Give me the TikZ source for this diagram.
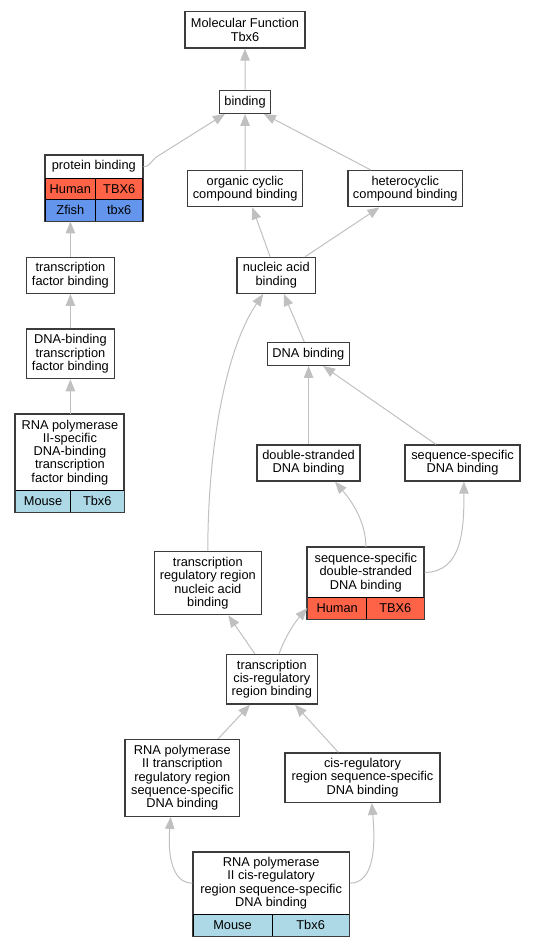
\documentclass[tikz,border=0pt]{standalone}
\usepackage{fontspec}
\setmainfont{Liberation Sans}
\usetikzlibrary{arrows.meta,calc}
\definecolor{edgec}{HTML}{C0C0C0}
\definecolor{bordc}{HTML}{3C3C3C}
\definecolor{human}{HTML}{FF6347}
\definecolor{zfish}{HTML}{6495ED}
\definecolor{mouse}{HTML}{ADD8E6}
\tikzset{
  txt/.style={font=\fontsize{12.8pt}{13.3pt}\selectfont, align=center, inner sep=0pt},
  box/.style={txt, draw=bordc, line width=1.3pt, fill=white},
  cell/.style={txt, draw=black, line width=0.9pt},
  grp/.style={draw=bordc, line width=1.3pt},
  edge/.style={draw=edgec, line width=1pt, -{Triangle[length=12pt,width=9.5pt]}}
}
\begin{document}
\begin{tikzpicture}[x=1pt,y=-1pt]
\useasboundingbox (0,0) rectangle (536,947);
% nodes
\node[box, minimum width=120pt, minimum height=36.3pt] (mf) at (245,29.85) {Molecular Function\\Tbx6};
\node[box, minimum width=51.4pt, minimum height=23pt] (bind) at (245.1,101.8) {binding};
% protein binding group
\node[box, minimum width=97.7pt, minimum height=23.3pt] (pbt) at (93.85,166.65) {protein binding};
\node[cell, fill=human, minimum width=50.7pt, minimum height=21pt] (pbh) at (70.35,188.8) {Human};
\node[cell, fill=human, minimum width=47pt, minimum height=21pt] (pbhg) at (119.2,188.8) {TBX6};
\node[cell, fill=zfish, minimum width=50.7pt, minimum height=21.7pt] (pbz) at (70.35,210.15) {Zfish};
\node[cell, fill=zfish, minimum width=47pt, minimum height=21.7pt] (pbzg) at (119.2,210.15) {tbx6};
\draw[grp] (pbt.north west) rectangle (pbzg.south east);
\node[box, minimum width=114.9pt, minimum height=36pt] (occ) at (245.15,188.7) {organic cyclic\\compound binding};
\node[box, minimum width=114.6pt, minimum height=36pt] (het) at (405.3,188.7) {heterocyclic\\compound binding};
\node[box, minimum width=88.2pt, minimum height=36pt] (tfb) at (70.4,275.3) {transcription\\factor binding};
\node[box, minimum width=78.7pt, minimum height=36pt] (nab) at (276.25,275.3) {nucleic acid\\binding};
\node[box, minimum width=88.2pt, minimum height=49.7pt] (dtfb) at (70.4,353.85) {DNA-binding\\transcription\\factor binding};
\node[box, minimum width=82pt, minimum height=22.6pt] (dnab) at (308.4,354) {DNA binding};
% RNA pol II specific group
\node[box, minimum width=108.4pt, minimum height=76pt] (rp2t) at (69.9,452.3) {RNA polymerase\\II-specific\\DNA-binding\\transcription\\factor binding};
\node[cell, fill=mouse, minimum width=54.7pt, minimum height=21.7pt] (rp2m) at (43.05,501.15) {Mouse};
\node[cell, fill=mouse, minimum width=53.7pt, minimum height=21.7pt] (rp2g) at (97.25,501.15) {Tbx6};
\draw[grp] (rp2t.north west) rectangle (rp2g.south east);
\node[box, minimum width=102.9pt, minimum height=36pt] (ds) at (308.55,463) {double-stranded\\DNA binding};
\node[box, minimum width=114.9pt, minimum height=36pt] (ssd) at (462.55,463) {sequence-specific\\DNA binding};
\node[box, minimum width=107pt, minimum height=63pt] (trr) at (207.8,583.2) {transcription\\regulatory region\\nucleic acid\\binding};
% ssds group
\node[box, minimum width=116.3pt, minimum height=49.6pt] (ssdst) at (365.85,572.5) {sequence-specific\\double-stranded\\DNA binding};
\node[cell, fill=human, minimum width=59pt, minimum height=21.7pt] (ssdsh) at (337.2,608.15) {Human};
\node[cell, fill=human, minimum width=57.3pt, minimum height=21.7pt] (ssdsg) at (395.35,608.15) {TBX6};
\draw[grp] (ssdst.north west) rectangle (ssdsg.south east);
\node[box, minimum width=91pt, minimum height=49.3pt] (tcr) at (271.8,679.35) {transcription\\cis-regulatory\\region binding};
\node[box, minimum width=114.7pt, minimum height=77pt] (rp2tr) at (182.35,777.8) {RNA polymerase\\II transcription\\regulatory region\\sequence-specific\\DNA binding};
\node[box, minimum width=155pt, minimum height=49.3pt] (crs) at (362.5,777.65) {cis-regulatory\\region sequence-specific\\DNA binding};
% rp2c group
\node[box, minimum width=156.3pt, minimum height=62.3pt] (rp2ct) at (271.15,883.15) {RNA polymerase\\II cis-regulatory\\region sequence-specific\\DNA binding};
\node[cell, fill=mouse, minimum width=79pt, minimum height=21.7pt] (rp2cm) at (232.5,925.15) {Mouse};
\node[cell, fill=mouse, minimum width=77.3pt, minimum height=21.7pt] (rp2cg) at (310.65,925.15) {Tbx6};
\draw[grp] (rp2ct.north west) rectangle (rp2cg.south east);
% edges
\draw[edge] (bind.north) -- (mf.south);
\draw[edge] (pbt.east) .. controls (151,166.5) and (150,161) .. (158,156) -- ($(bind.south west)+(6.2,0)$);
\draw[edge] (occ.north) -- (bind.south);
\draw[edge] ($(het.north)+(-34.4,0)$) -- ($(bind.south east)+(-7.6,0)$);
\draw[edge] ($(nab.north)+(-6.15,0)$) -- ($(occ.south)+(7.15,0)$);
\draw[edge] ($(nab.north)+(29,0)$) -- ($(het.south)+(-25.8,0)$);
\draw[edge] (tfb.north) -- (tfb.north |- pbz.south);
\draw[edge] (dtfb.north) -- (tfb.south);
\draw[edge] (dtfb.south |- rp2t.north) -- (dtfb.south);
\draw[edge] ($(dnab.north)+(-4.1,0)$) -- ($(nab.south)+(7.55,0)$);
\draw[edge] (trr.north) .. controls (207.8,450) and (225,350) .. ($(nab.south)+(-13,0)$);
\draw[edge] (ds.north) -- (ds.north |- dnab.south);
\draw[edge] ($(ssd.north)+(-26.65,0)$) -- ($(dnab.south)+(14.7,0)$);
\draw[edge] (ssdst.north) .. controls (366,525) and (355,505) .. ($(ds.south)+(26.45,0)$);
\draw[edge] (ssdst.east) .. controls (462,572) and (464,530) .. ($(ssd.south)+(1.35,0)$);
\draw[edge] ($(tcr.north)+(-16.8,0)$) -- ($(trr.south)+(20.5,0)$);
\draw[edge] ($(tcr.north)+(7.2,0)$) .. controls (285,637) and (295,622) .. (ssdsh.west);
\draw[edge] ($(rp2tr.north)+(36,0)$) -- ($(tcr.south)+(-21.8,0)$);
\draw[edge] ($(crs.north)+(-24.2,0)$) -- ($(tcr.south)+(23.2,0)$);
\draw[edge] (rp2ct.west) .. controls (170,883) and (168,850) .. ($(rp2tr.south)+(-11.65,0)$);
\draw[edge] (rp2ct.east) .. controls (373,883) and (376,850) .. ($(crs.south)+(9.2,0)$);
\end{tikzpicture}
\end{document}
